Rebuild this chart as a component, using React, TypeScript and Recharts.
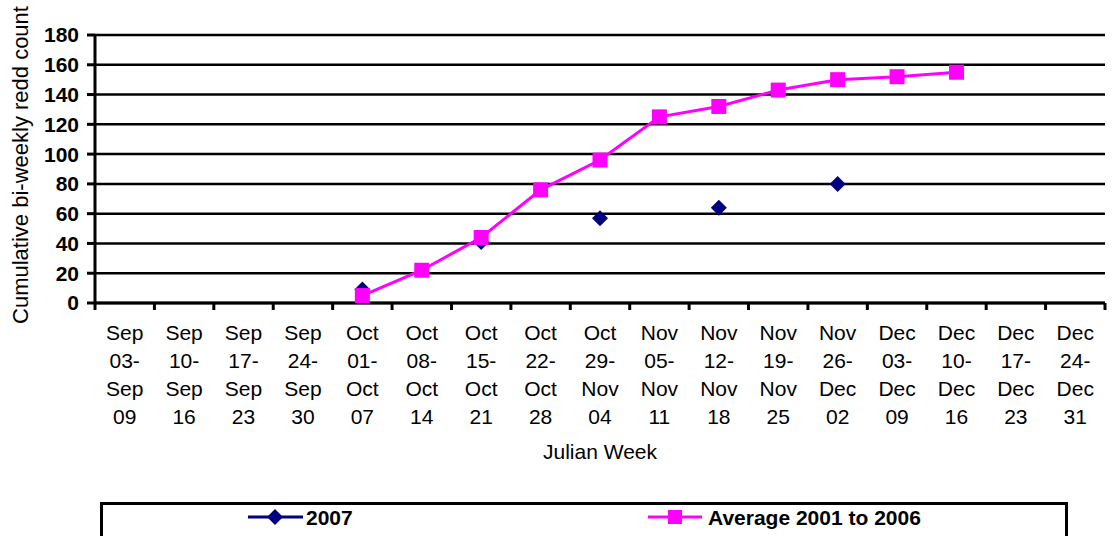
import React from 'react';
import { LineChart, Line, XAxis, YAxis, CartesianGrid, Legend } from 'recharts';

const weeks = [
  'Sep 03-Sep 09', 'Sep 10-Sep 16', 'Sep 17-Sep 23', 'Sep 24-Sep 30',
  'Oct 01-Oct 07', 'Oct 08-Oct 14', 'Oct 15-Oct 21', 'Oct 22-Oct 28',
  'Oct 29-Nov 04', 'Nov 05-Nov 11', 'Nov 12-Nov 18', 'Nov 19-Nov 25',
  'Nov 26-Dec 02', 'Dec 03-Dec 09', 'Dec 10-Dec 16', 'Dec 17-Dec 23',
  'Dec 24-Dec 31',
];

const count2007 = [null, null, null, null, 9, null, 41, null, 57, null, 64, null, 80, null, null, null, null];
const avg2001to2006 = [null, null, null, null, 5, 22, 44, 76, 96, 125, 132, 143, 150, 152, 155, null, null];

const yTicks = [0, 20, 40, 60, 80, 100, 120, 140, 160, 180];

const data = weeks.map((week, i) => ({
  week,
  y2007: count2007[i],
  avg: avg2001to2006[i],
}));

const FONT = '"Liberation Sans", Arial, sans-serif';
const NAVY = '#000080';
const MAGENTA = '#FF00FF';

const W = 1113;
const H = 536;
const PLOT_LEFT = 95;
const PLOT_RIGHT = 1105;
const BAND = (PLOT_RIGHT - PLOT_LEFT) / weeks.length;

const Diamond = ({ cx, cy, size = 8 }: any) => (
  <path d={`M${cx},${cy - size} L${cx + size},${cy} L${cx},${cy + size} L${cx - size},${cy} Z`} fill={NAVY} />
);

const Square = ({ cx, cy, size = 7.5 }: any) => (
  <rect x={cx - size} y={cy - size} width={size * 2} height={size * 2} fill={MAGENTA} />
);

const diamondDot = (props: any) => {
  if (props.cy == null || props.value == null) return <g key={props.index} />;
  return <Diamond key={props.index} cx={props.cx} cy={props.cy} />;
};

const squareDot = (props: any) => {
  if (props.cy == null || props.value == null) return <g key={props.index} />;
  return <Square key={props.index} cx={props.cx} cy={props.cy} />;
};

const WeekTick = ({ x, y, payload, index }: any) => {
  const [from, to] = String(payload.value).split('-');
  const [m1, d1] = from.split(' ');
  const [m2, d2] = to.split(' ');
  const lines = [m1, d1 + '-', m2, d2];
  const left = x - BAND / 2;
  return (
    <g>
      <line x1={left} y1={y} x2={left} y2={y + 7} stroke="#000" strokeWidth={3} />
      {index === weeks.length - 1 && (
        <line x1={x + BAND / 2} y1={y} x2={x + BAND / 2} y2={y + 7} stroke="#000" strokeWidth={3} />
      )}
      {lines.map((t, i) => (
        <text key={i} x={x} y={y + 37 + i * 28} textAnchor="middle" fontSize={21} fontFamily={FONT} fill="#000">
          {t}
        </text>
      ))}
    </g>
  );
};

const LegendBox = () => (
  <div
    style={{
      width: 968,
      height: 50,
      border: '3px solid #000',
      boxSizing: 'border-box',
      background: '#fff',
    }}
  >
    <svg width={962} height={44}>
      <line x1={145} y1={12} x2={200} y2={12} stroke={NAVY} strokeWidth={3} />
      <Diamond cx={172} cy={12} />
      <text x={203} y={19.5} fontSize={21} fontWeight="bold" fontFamily={FONT} fill="#000">2007</text>
      <line x1={545} y1={12} x2={599} y2={12} stroke={MAGENTA} strokeWidth={3} />
      <Square cx={572} cy={12} size={7} />
      <text x={605} y={19.5} fontSize={21} fontWeight="bold" fontFamily={FONT} fill="#000">Average 2001 to 2006</text>
    </svg>
  </div>
);

export default function App() {
  return (
    <div style={{ position: 'absolute', left: 0, top: 0, width: W, height: H, overflow: 'hidden', background: '#fff' }}>
      <LineChart width={W} height={H} data={data} margin={{ top: 35, right: W - PLOT_RIGHT, bottom: 0, left: 0 }}>
        <CartesianGrid vertical={false} stroke="#000" strokeWidth={2.5} />
        <XAxis
          dataKey="week"
          scale="band"
          interval={0}
          height={233}
          tickLine={false}
          tickSize={0}
          tickMargin={0}
          axisLine={{ stroke: '#000', strokeWidth: 3 }}
          tick={<WeekTick />}
          label={{
            value: 'Julian Week',
            position: 'insideTop',
            offset: 141,
            style: { fontSize: 21, fontFamily: FONT, fill: '#000' },
          }}
        />
        <YAxis
          domain={[0, 180]}
          ticks={yTicks}
          width={PLOT_LEFT}
          interval={0}
          tickSize={8}
          tickMargin={8}
          tickLine={{ stroke: '#000', strokeWidth: 3 }}
          axisLine={{ stroke: '#000', strokeWidth: 3 }}
          tick={{ fontSize: 21, fontWeight: 'bold', fontFamily: FONT, fill: '#000' }}
          label={{
            value: 'Cumulative bi-weekly redd count',
            angle: -90,
            position: 'insideLeft',
            dx: 15,
            dy: -4,
            textAnchor: 'middle',
            style: { fontSize: 22, fontFamily: FONT, fill: '#000', textAnchor: 'middle' },
          }}
        />
        <Legend
          layout="horizontal"
          verticalAlign="middle"
          align="center"
          content={<LegendBox />}
          wrapperStyle={{ left: 100, top: 502, width: 968, height: 50 }}
        />
        <Line
          dataKey="y2007"
          name="2007"
          stroke={NAVY}
          strokeWidth={3}
          dot={diamondDot}
          activeDot={false}
          connectNulls={false}
          isAnimationActive={false}
        />
        <Line
          dataKey="avg"
          name="Average 2001 to 2006"
          stroke={MAGENTA}
          strokeWidth={3}
          dot={squareDot}
          activeDot={false}
          connectNulls={false}
          isAnimationActive={false}
        />
      </LineChart>
    </div>
  );
}
